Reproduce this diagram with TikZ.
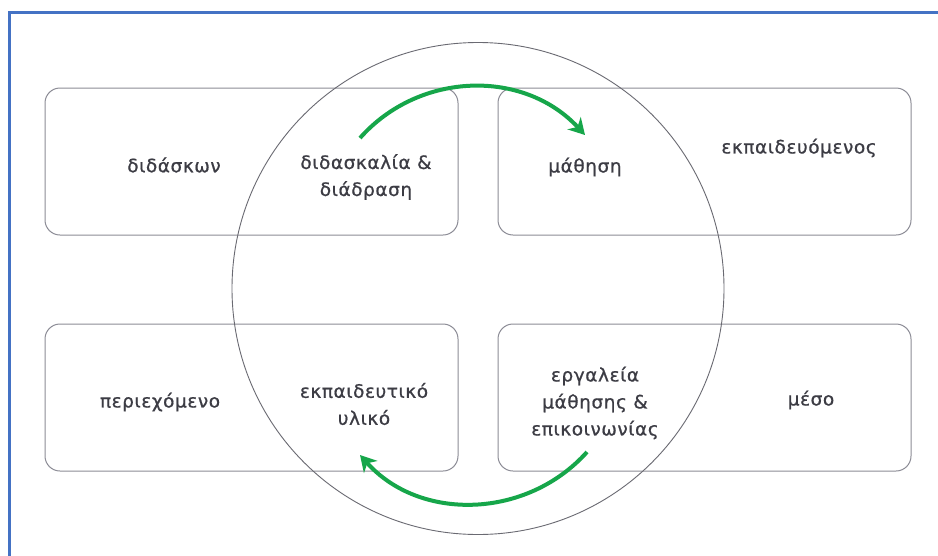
\documentclass[tikz,border=0pt]{standalone}
\usepackage{fontspec}
\setmainfont{DejaVu Sans}[LetterSpace=3,FakeBold=0.8]
\usetikzlibrary{arrows.meta}
\definecolor{frameblue}{HTML}{4472C4}
\definecolor{boxgray}{HTML}{8C8C96}
\definecolor{circgray}{HTML}{6A6A72}
\definecolor{txtgray}{HTML}{3C3C44}
\definecolor{arrgreen}{HTML}{16A64A}
\tikzset{
  box/.style={draw=boxgray, line width=1pt, rounded corners=15pt, minimum width=413pt, minimum height=147pt, inner sep=0pt},
  lbl/.style={text=txtgray, align=center, font=\fontsize{18.5}{27}\selectfont, inner sep=2pt},
  ring/.style={draw=circgray, line width=0.9pt, circle, minimum size=492pt, inner sep=0pt},
  flow/.style={draw=arrgreen, line width=4pt, -{Stealth[length=16pt,width=18pt,inset=5pt]}},
  frame/.style={draw=frameblue, line width=3pt}
}
\begin{document}
\begin{tikzpicture}[x=1pt,y=-1pt]
\useasboundingbox (0,0) rectangle (938,555);
\fill[white] (0,0) rectangle (938,555);
\draw[frame] (9.5,556) -- (9.5,12) -- (939,12);
\node[box] (tl) at (251.5,161.5) {};
\node[box] (tr) at (704.5,161.5) {};
\node[box] (bl) at (251.5,397.5) {};
\node[box] (br) at (704.5,397.5) {};
\node[ring] (c) at (478,288.5) {};
\node[lbl] (t1) at (174,165) {διδάσκων};
\node[lbl] (t2) at (366,177) {διδασκαλία \&\\διάδραση};
\node[lbl] (t3) at (585,167) {μάθηση};
\node[lbl] (t4) at (799,148) {εκπαιδευόμενος};
\node[lbl] (t5) at (160,402) {περιεχόμενο};
\node[lbl] (t6) at (364,404) {εκπαιδευτικό\\υλικό};
\node[lbl] (t7) at (595,403) {εργαλεία\\μάθησης \&\\επικοινωνίας};
\node[lbl] (t8) at (811,400) {μέσο};
\coordinate (s1) at (360,138);
\coordinate (e1) at (585,135);
\coordinate (s2) at (587,452);
\coordinate (e2) at (360,455);
\draw[flow] (s1) .. controls (419.5,71) and (524,69) .. (e1);
\draw[flow] (s2) .. controls (527,519) and (420,522) .. (e2);
\end{tikzpicture}
\end{document}
